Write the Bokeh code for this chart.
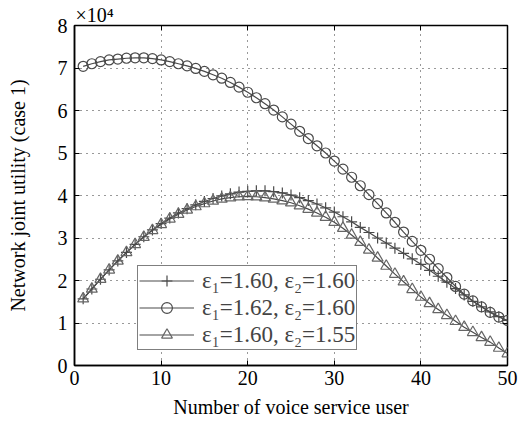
from bokeh.plotting import figure
from bokeh.models import LinearAxis, Legend, LegendItem, FixedTicker, Range1d
from bokeh.embed import file_html
from bokeh.resources import INLINE

x_users = list(range(1, 51))

# eps1=1.60, eps2=1.60 (plus)
util_a = [1.57, 1.80, 2.03, 2.25, 2.46, 2.66, 2.85, 3.03, 3.19, 3.34,
          3.47, 3.59, 3.69, 3.78, 3.86, 3.93, 3.99, 4.04, 4.08, 4.10,
          4.11, 4.11, 4.09, 4.06, 4.01, 3.95, 3.88, 3.80, 3.71, 3.61,
          3.50, 3.38, 3.25, 3.13, 3.00, 2.88, 2.76, 2.64, 2.51, 2.38,
          2.24, 2.10, 1.96, 1.81, 1.66, 1.51, 1.38, 1.26, 1.15, 1.06]
# eps1=1.62, eps2=1.60 (circle)
util_b = [7.04, 7.10, 7.15, 7.19, 7.21, 7.23, 7.24, 7.24, 7.22, 7.19,
          7.15, 7.10, 7.05, 6.99, 6.92, 6.84, 6.76, 6.66, 6.55, 6.43,
          6.30, 6.16, 6.01, 5.85, 5.68, 5.51, 5.34, 5.17, 5.00, 4.81,
          4.62, 4.43, 4.23, 4.02, 3.81, 3.59, 3.37, 3.14, 2.92, 2.71,
          2.50, 2.28, 2.07, 1.86, 1.68, 1.52, 1.38, 1.25, 1.14, 1.06]
# eps1=1.60, eps2=1.55 (triangle)
util_c = [1.57, 1.80, 2.03, 2.25, 2.46, 2.66, 2.85, 3.02, 3.18, 3.32,
          3.45, 3.56, 3.66, 3.74, 3.81, 3.87, 3.92, 3.95, 3.97, 3.98,
          3.97, 3.95, 3.92, 3.88, 3.83, 3.76, 3.68, 3.59, 3.49, 3.37,
          3.23, 3.07, 2.90, 2.72, 2.53, 2.34, 2.15, 1.97, 1.79, 1.61,
          1.46, 1.32, 1.18, 1.04, 0.90, 0.78, 0.66, 0.55, 0.41, 0.28]

labels = ["ε₁=1.60, ε₂=1.60", "ε₁=1.62, ε₂=1.60", "ε₁=1.60, ε₂=1.55"]
x_ticks = [0, 10, 20, 30, 40, 50]
y_ticks = [0, 1, 2, 3, 4, 5, 6, 7, 8]

FONT = "Liberation Serif"
LC = "#4a4a4a"

p = figure(frame_width=433, frame_height=340, min_border_left=74, min_border_right=11,
           min_border_top=25, min_border_bottom=55,
           x_range=Range1d(0, 50), y_range=Range1d(0, 8),
           title="×10⁴",
           output_backend="svg", toolbar_location=None)
p.background_fill_color = "white"
p.border_fill_color = "white"
p.outline_line_color = "black"
p.outline_line_width = 1.5

p.title.text_font = FONT
p.title.text_font_size = "20px"
p.title.text_font_style = "normal"
p.title.text_color = "black"
p.title.align = "left"
p.title.offset = 1
p.title.standoff = 0

for ax, ticks in ((p.xaxis[0], x_ticks), (p.yaxis[0], y_ticks)):
    ax.ticker = FixedTicker(ticks=ticks)
    ax.major_tick_in = 5
    ax.major_tick_out = 0
    ax.minor_tick_line_color = None
    ax.axis_line_width = 1.5
    ax.major_label_text_font = FONT
    ax.major_label_text_font_size = "20px"
    ax.major_label_text_color = "black"
    ax.axis_label_text_font = FONT
    ax.axis_label_text_font_size = "20px"
    ax.axis_label_text_font_style = "normal"
    ax.axis_label_text_color = "black"

p.xaxis.axis_label = "Number of voice service user"
p.yaxis.axis_label = "Network joint utility (case 1)"
p.xaxis.major_label_standoff = 5
p.xaxis.axis_label_standoff = 8
p.yaxis.major_label_standoff = 7
p.yaxis.axis_label_standoff = 26

rax = LinearAxis(ticker=FixedTicker(ticks=y_ticks), major_tick_in=5, major_tick_out=0,
                 minor_tick_line_color=None, major_label_standoff=0,
                 major_label_overrides={t: "" for t in y_ticks},
                 axis_line_color=None)
tax = LinearAxis(ticker=FixedTicker(ticks=x_ticks), major_tick_in=5, major_tick_out=0,
                 minor_tick_line_color=None, major_label_standoff=0,
                 major_label_overrides={t: "" for t in x_ticks},
                 axis_line_color=None)
p.add_layout(rax, "right")
p.add_layout(tax, "above")

p.xgrid.ticker = FixedTicker(ticks=x_ticks)
p.ygrid.ticker = FixedTicker(ticks=y_ticks)
for g in (p.xgrid[0], p.ygrid[0]):
    g.grid_line_color = "#333333"
    g.grid_line_dash = "1 5"
    g.grid_line_width = 1

la = p.line(x_users, util_a, line_color=LC, line_width=1.2)
ma = p.scatter(x_users, util_a, marker="cross", size=11, line_color=LC, line_width=1.2)
lb = p.line(x_users, util_b, line_color=LC, line_width=1.2)
mb = p.scatter(x_users, util_b, marker="circle", size=10, line_color=LC, fill_alpha=0, line_width=1.2)
lc = p.line(x_users, util_c, line_color=LC, line_width=1.2)
mc = p.scatter(x_users, util_c, marker="triangle", size=11, line_color="#666666", fill_alpha=0, line_width=1.2)

legend = Legend(items=[LegendItem(label=labels[0], renderers=[la, ma]),
                       LegendItem(label=labels[1], renderers=[lb, mb]),
                       LegendItem(label=labels[2], renderers=[lc, mc])],
                location=(63, 15), padding=1, margin=0, spacing=0,
                label_height=27, glyph_height=27, glyph_width=55, label_standoff=8,
                label_text_font=FONT, label_text_font_size="23px",
                border_line_color="black", border_line_width=1,
                background_fill_alpha=1)
p.add_layout(legend, "center")

open("out.html", "w").write(file_html(p, INLINE))
